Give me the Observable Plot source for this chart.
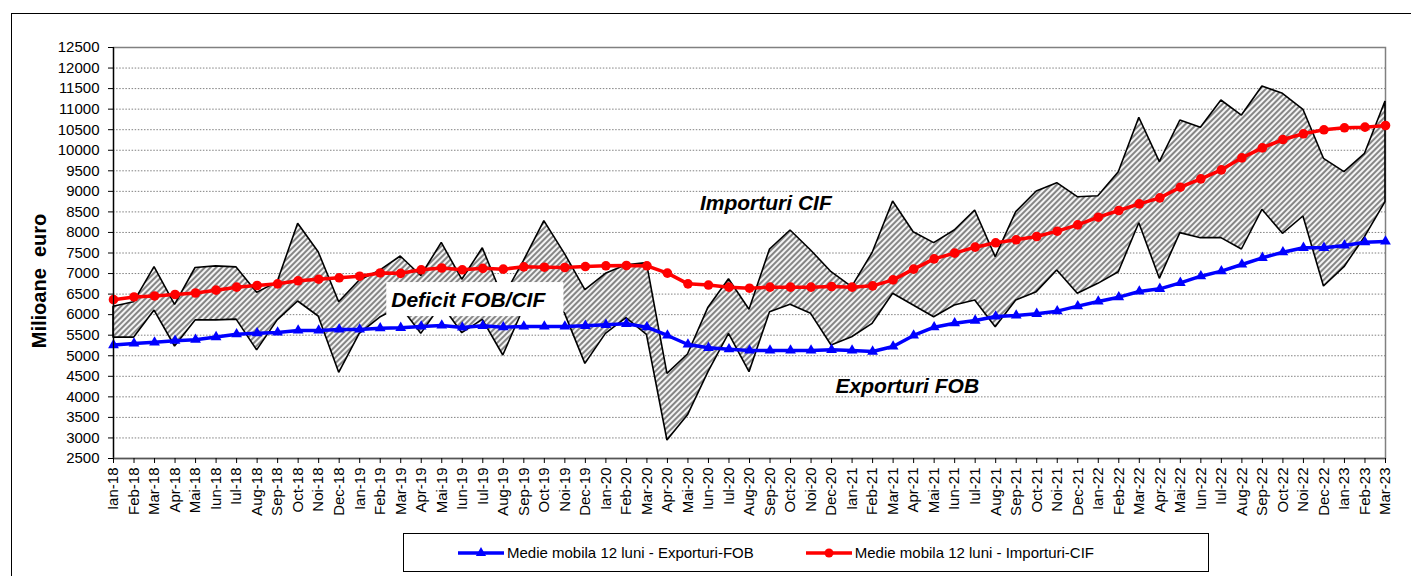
<!DOCTYPE html>
<html>
<head>
<meta charset="utf-8">
<script src="https://cdn.jsdelivr.net/npm/d3@7"></script>
<script src="https://cdn.jsdelivr.net/npm/@observablehq/plot@0.6"></script>
<style>
  html, body { margin: 0; padding: 0; background: #fff; overflow: hidden; }
  body { width: 1411px; height: 576px; position: relative; font-family: "Liberation Sans", Arial, sans-serif; }
  #frame { position: absolute; left: 11px; top: 13px; width: 1500px; height: 700px; border: 1px solid #000; pointer-events: none; }
  #chart svg text { white-space: pre; }
  #legend { margin-left: 403px; margin-top: 5px; width: 806px; height: 39px; box-sizing: border-box; border: 1px solid #000;
            display: flex; align-items: center; font-size: 15px; color: #000; background: #fff; position: relative; }
  .item { display: flex; align-items: center; }
  .item span { margin-left: 3px; }
</style>
</head>
<body>
<div id="chart"></div>
<div id="legend"></div>
<div id="frame"></div>
<script>
const months = [
  "Ian-18","Feb-18","Mar-18","Apr-18","Mai-18","Iun-18","Iul-18","Aug-18","Sep-18","Oct-18","Noi-18","Dec-18",
  "Ian-19","Feb-19","Mar-19","Apr-19","Mai-19","Iun-19","Iul-19","Aug-19","Sep-19","Oct-19","Noi-19","Dec-19",
  "Ian-20","Feb-20","Mar-20","Apr-20","Mai-20","Iun-20","Iul-20","Aug-20","Sep-20","Oct-20","Noi-20","Dec-20",
  "Ian-21","Feb-21","Mar-21","Apr-21","Mai-21","Iun-21","Iul-21","Aug-21","Sep-21","Oct-21","Noi-21","Dec-21",
  "Ian-22","Feb-22","Mar-22","Apr-22","Mai-22","Iun-22","Iul-22","Aug-22","Sep-22","Oct-22","Noi-22","Dec-22",
  "Ian-23","Feb-23","Mar-23"
];

// Monthly exports FOB (mil. euro)
const exportsFOB = [
  5440,5440,6100,5225,5860,5860,5880,5130,5860,6320,5955,4585,
  5533,5930,6190,5533,6240,5549,5874,5006,6150,6500,6030,4803,
  5533,5915,5510,2938,3550,4600,5533,4600,6060,6240,6020,5250,
  5450,5777,6507,6223,5938,6223,6344,5695,6344,6547,7074,6507,
  6750,7033,8225,6872,7983,7861,7861,7585,8550,7967,8388,6685,
  7155,7885,8736
];

// Monthly imports CIF (mil. euro)
const importsCIF = [
  6190,6300,7155,6240,7135,7175,7150,6530,6790,8210,7520,6300,
  6830,7070,7415,6940,7745,6850,7615,6400,7300,8274,7480,6595,
  6993,7200,7253,4560,5030,6170,6860,6118,7585,8047,7561,7033,
  6669,7500,8753,8006,7740,8047,8534,7398,8493,8996,9198,8858,
  8882,9466,10790,9709,10724,10546,11210,10845,11551,11373,10984,9792,
  9466,9913,11186
];

// 12-month moving average, imports CIF
const maImportsCIF = [
  6365,6430,6455,6490,6527,6596,6669,6709,6750,6823,6863,6896,
  6936,7014,7005,7091,7135,7091,7127,7107,7163,7155,7147,7171,
  7188,7196,7188,7010,6750,6720,6669,6644,6669,6669,6669,6685,
  6669,6701,6847,7107,7358,7496,7642,7748,7821,7901,8031,8185,
  8371,8534,8696,8842,9101,9304,9523,9815,10059,10261,10400,10497,
  10546,10562,10602
];

// 12-month moving average, exports FOB
const maExportsFOB = [
  5260,5298,5326,5367,5391,5455,5525,5549,5566,5614,5614,5639,
  5639,5671,5679,5712,5736,5690,5728,5695,5712,5712,5712,5728,
  5753,5777,5695,5493,5274,5193,5160,5128,5128,5128,5128,5144,
  5128,5103,5225,5493,5695,5793,5857,5955,5979,6020,6085,6207,
  6320,6425,6563,6628,6774,6936,7058,7220,7383,7520,7626,7626,
  7683,7764,7780
];

const yTicks = d3.range(2500, 12501, 500);
const gridValues = d3.range(3000, 12001, 500);

const notes = [
  {month: "Mai-20", value: 8700, text: "Importuri CIF", anchor: "start", dx: 12},
  {month: "Iun-19", value: 6360, text: "Deficit FOB/CIF", anchor: "middle", dx: 6},
  {month: "Dec-20", value: 4250, text: "Exporturi FOB", anchor: "start", dx: 4}
];

const legendItems = [
  {label: "Medie mobila 12 luni - Exporturi-FOB", color: "#0000ff", symbol: "triangle"},
  {label: "Medie mobila 12 luni - Importuri-CIF", color: "#ff0000", symbol: "circle"}
];

const table = months.map((m, i) => ({
  month: m, exp: exportsFOB[i], imp: importsCIF[i], maExp: maExportsFOB[i], maImp: maImportsCIF[i]
}));

const font = "'Liberation Sans', Arial, sans-serif";

const chart = Plot.plot({
  width: 1411,
  height: 528,
  marginLeft: 113,
  marginRight: 26,
  marginTop: 47,
  marginBottom: 70,
  style: {fontFamily: font, fontSize: "15px", color: "#000", background: "transparent", overflow: "visible"},
  x: {type: "point", domain: months, padding: 0},
  y: {domain: [2500, 12500]},
  marks: [
    Plot.frame({stroke: "#808080", strokeWidth: 1.5}),
    Plot.ruleY(gridValues, {stroke: "#808080", strokeDasharray: "1.5,1.6", strokeWidth: 1}),
    Plot.areaY(table, {x: "month", y1: "exp", y2: "imp", fill: "url(#hatch)", stroke: "#000", strokeWidth: 1.6, strokeLinejoin: "miter"}),
    Plot.lineY(table, {x: "month", y: "maImp", stroke: "#ff0000", strokeWidth: 3.5}),
    Plot.dot(table, {x: "month", y: "maImp", fill: "#ff0000", r: 4.8}),
    Plot.lineY(table, {x: "month", y: "maExp", stroke: "#0000ff", strokeWidth: 3.5}),
    Plot.dot(table, {x: "month", y: "maExp", fill: "#0000ff", symbol: "triangle", r: 4}),
    Plot.ruleX([months[0]], {stroke: "#000", strokeWidth: 1.3}),
    Plot.ruleY([2500], {stroke: "#555", strokeWidth: 1.5}),
    Plot.axisY({ticks: yTicks, tickFormat: "d", tickSize: 5, tickPadding: 9, fontSize: 15, label: null}),
    Plot.axisX({tickRotate: -90, tickSize: 5, tickPadding: 4, fontSize: 15, label: null}),
    Plot.text(["Milioane  euro"], {frameAnchor: "left", rotate: -90, dx: -74, dy: 28, fontSize: 20, fontWeight: "bold", textAnchor: "middle"}),
    ...notes.map(n => Plot.text([n], {x: "month", y: "value", text: "text", textAnchor: n.anchor, dx: n.dx,
      fontSize: 21, fontWeight: "bold", fontStyle: "italic", fill: "#000"}))
  ]
});

document.getElementById("chart").appendChild(chart);

// hatch pattern
const ns = "http://www.w3.org/2000/svg";
const defs = document.createElementNS(ns, "defs");
const pat = document.createElementNS(ns, "pattern");
pat.setAttribute("id", "hatch");
pat.setAttribute("patternUnits", "userSpaceOnUse");
pat.setAttribute("width", "4");
pat.setAttribute("height", "4");
pat.setAttribute("patternTransform", "rotate(45)");
const bg = document.createElementNS(ns, "rect");
bg.setAttribute("width", "4"); bg.setAttribute("height", "4"); bg.setAttribute("fill", "#f4f4f4");
const ln = document.createElementNS(ns, "line");
ln.setAttribute("x1", "2"); ln.setAttribute("y1", "-1"); ln.setAttribute("x2", "2"); ln.setAttribute("y2", "5");
ln.setAttribute("stroke", "#3c3c3c"); ln.setAttribute("stroke-width", "1.2");
pat.appendChild(bg); pat.appendChild(ln); defs.appendChild(pat);
chart.insertBefore(defs, chart.firstChild);

// white box behind "Deficit FOB/CIF"
for (const t of chart.querySelectorAll("text")) {
  if (t.textContent === "Deficit FOB/CIF") {
    const b = t.getBBox();
    const g = t.parentNode;
    const tr = g.getAttribute("transform");
    const r = document.createElementNS(ns, "rect");
    const cy = b.y + b.height / 2;
    r.setAttribute("x", b.x - 5);
    r.setAttribute("width", b.width + 22);
    r.setAttribute("y", cy - 17);
    r.setAttribute("height", 34);
    r.setAttribute("fill", "#fff");
    const wrap = document.createElementNS(ns, "g");
    if (tr) wrap.setAttribute("transform", tr);
    const tt = t.getAttribute("transform");
    if (tt) r.setAttribute("transform", tt);
    wrap.appendChild(r);
    g.parentNode.insertBefore(wrap, g);
  }
}

// legend
const legend = document.getElementById("legend");
legendItems.forEach((it, i) => {
  const d = document.createElement("div");
  d.className = "item";
  d.style.marginLeft = i === 0 ? "54px" : "52px";
  const s = d3.create("svg").attr("width", 46).attr("height", 14);
  s.append("line").attr("x1", 0).attr("x2", 46).attr("y1", 7).attr("y2", 7).attr("stroke", it.color).attr("stroke-width", 3.5);
  if (it.symbol === "circle") s.append("circle").attr("cx", 23).attr("cy", 7).attr("r", 4.5).attr("fill", it.color);
  else s.append("path").attr("d", d3.symbol(d3.symbolTriangle, 45)()).attr("transform", "translate(23,7)").attr("fill", it.color);
  d.appendChild(s.node());
  const sp = document.createElement("span");
  sp.textContent = it.label;
  d.appendChild(sp);
  legend.appendChild(d);
});
</script>
</body>
</html>
